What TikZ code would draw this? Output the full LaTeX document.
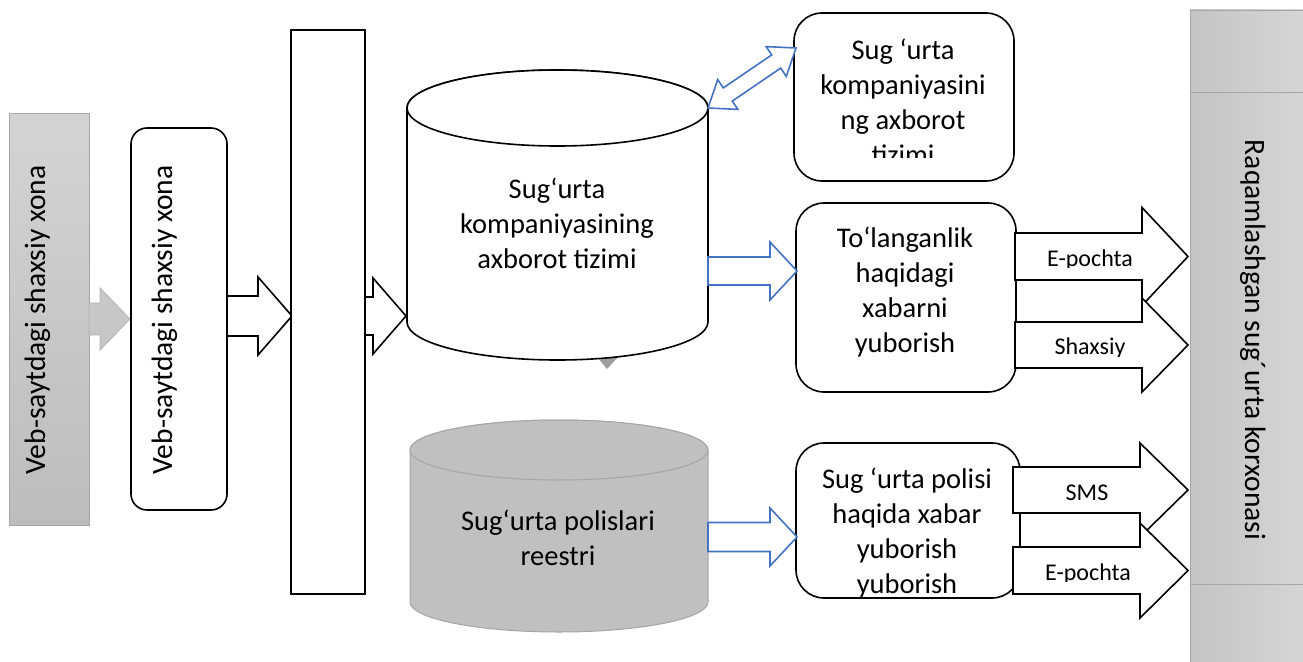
\documentclass[tikz,border=0pt]{standalone}
\usepackage{fontspec}
\setmainfont{Carlito}
\definecolor{bluel}{HTML}{4472C4}
\definecolor{grayfill}{HTML}{C0C0C0}
\definecolor{grayline}{HTML}{A6A6A6}
\newcommand{\mainsz}{\fontsize{28.5}{35}\selectfont}
\newcommand{\vertsz}{\fontsize{29.5}{35}\selectfont}
\newcommand{\smallsz}{\fontsize{24}{28}\selectfont}
% style, x start, x tip, y centre (pixel, down), shaft half, head half, head length
\newcommand{\hblockarrow}[7]{%
  \draw[#1] (#2,-#4+#5) -- (#3-#7,-#4+#5) -- (#3-#7,-#4+#6) -- (#3,-#4)
    -- (#3-#7,-#4-#6) -- (#3-#7,-#4-#5) -- (#2,-#4-#5) -- cycle;}
% style, cx, rx, y top centre, y bottom centre, ry  (pixel y, down)
\newcommand{\cylshape}[6]{%
  \path[#1] (#2-#3,-#4) -- (#2-#3,-#5)
    arc[start angle=180,end angle=360,x radius=#3,y radius=#6]
    -- (#2+#3,-#4)
    arc[start angle=0,end angle=180,x radius=#3,y radius=#6] -- cycle;
  \path[#1] (#2,-#4) ellipse[x radius=#3,y radius=#6];}
\begin{document}
\begin{tikzpicture}[x=1pt,y=1pt,
  blk/.style={draw=black,line width=1.6pt,fill=white,line join=miter},
  rbox/.style={draw=black,line width=1.6pt,fill=white,rounded corners=28pt,inner sep=0pt},
  txt/.style={font=\mainsz,align=center,inner sep=0pt,text=black},
  vtxt/.style={font=\vertsz,inner sep=0pt,text=black},
  lab/.style={font=\smallsz,inner sep=0pt,text=black},
  bluearr/.style={draw=bluel,line width=1.6pt,fill=white,line join=miter},
  grayarr/.style={draw=black!30,line width=0.8pt,fill=black!22},
  cylw/.style={draw=black,line width=1.6pt,fill=white},
  cylg/.style={draw=grayline,line width=1pt,fill=grayfill}]
\useasboundingbox (0,0) rectangle (1303,-661);

% left gray rectangle
\shade[top color=black!17,bottom color=black!26] (9,-113) rectangle (89,-525);
\node[draw=grayline,line width=0.8pt,minimum width=80pt,minimum height=412pt,inner sep=0pt] (lgray) at (49,-319) {};
\node[vtxt,rotate=90,anchor=base] (lgrayt) at (45,-320) {Veb-saytdagi shaxsiy xona};

% gray arrow
\hblockarrow{grayarr}{89}{130}{319}{16}{31}{30}

% rounded vertical box
\node[rbox,rounded corners=16pt,minimum width=96pt,minimum height=382pt] (lbox) at (179,-319) {};
\node[vtxt,rotate=90,anchor=base] (lboxt) at (172,-320) {Veb-saytdagi shaxsiy xona};

% white arrow 1
\hblockarrow{blk}{227}{292}{316}{20}{39}{34}

% tall rectangle
\node[draw=black,line width=1.6pt,fill=white,minimum width=74pt,minimum height=564pt,inner sep=0pt] (tall) at (328,-312) {};

% white arrow 2
\hblockarrow{blk}{365}{406}{316}{19}{38}{33}

% small gray triangle
\fill[black!38] (597,-357) -- (620,-355) -- (607,-369) -- cycle;

% cylinder 1
\cylshape{cylw}{557.5}{150.5}{108}{322}{38}
\coordinate (cyl1) at (557.5,-215);
\node[txt,anchor=base] (cyl1t) at (557,-268) {Sug‘urta\\kompaniyasining\\axborot tizimi};

% cylinder 2
\cylshape{cylg}{559}{149}{450}{602}{30}
\coordinate (cyl2) at (559,-525);
\node[txt,anchor=base] (cyl2t) at (558,-565) {Sug‘urta polislari\\reestri};

% box 1
\node[rbox,minimum width=220pt,minimum height=168pt] (b1) at (904,-97) {};
\begin{scope}
\clip (794,-13) rectangle (1014,-157);
\node[txt,anchor=base] (b1t) at (903,-164) {Sug ‘urta\\kompaniyasini\\ng axborot\\tizimi};
\end{scope}

% box 2
\node[rbox,minimum width=220pt,minimum height=189pt] (b2) at (906,-297.5) {};
\node[txt,anchor=base] (b2t) at (905,-352) {To‘langanlik\\haqidagi\\xabarni\\yuborish};

% box 3
\node[rbox,minimum width=224pt,minimum height=155pt] (b3) at (908,-520.5) {};
\node[txt,anchor=base] (b3t) at (907,-593) {Sug ‘urta polisi\\haqida xabar\\yuborish\\yuborish};

% blue double arrow
\draw[bluearr] (708,-108) -- (737.9,-109.4) -- (732.3,-101.1) -- (780.7,-68.1)
  -- (786.3,-76.4) -- (796,-48) -- (766.1,-46.6) -- (771.7,-54.9)
  -- (723.3,-87.9) -- (717.7,-79.6) -- cycle;

% blue arrows
\hblockarrow{bluearr}{708}{797}{271}{14}{29}{27}
\hblockarrow{bluearr}{708}{797}{537}{14.5}{29}{27}

% right bar
\shade[left color=black!23,right color=black!16] (1190,-10) rectangle (1310,-670);
\draw[grayline,line width=0.8pt] (1190,-670) -- (1190,-10) -- (1310,-10);
\draw[grayline,line width=0.8pt] (1190,-92) -- (1310,-92);
\draw[grayline,line width=0.8pt] (1190,-584) -- (1310,-584);
\coordinate (rbar) at (1246,-340);
\node[vtxt,rotate=-90,anchor=base] (rbart) at (1245,-340) {Raqamlashgan sug´urta korxonasi};

% output arrows, box 2
\hblockarrow{blk}{1015}{1188}{256.5}{23.5}{49}{46}
\hblockarrow{blk}{1015}{1188}{345}{23}{47}{46}
\begin{scope}
\clip (1020,-234) rectangle (1140,-267);
\node[lab,anchor=base] (l1) at (1090,-266) {E-pochta};
\end{scope}
\begin{scope}
\clip (1020,-323) rectangle (1140,-356);
\node[lab,anchor=base] (l2) at (1090,-354) {Shaxsiy};
\end{scope}

% output arrows, box 3
\hblockarrow{blk}{1013}{1188}{490}{23}{47}{48}
\hblockarrow{blk}{1013}{1188}{570.5}{23.5}{47.5}{48}
\node[lab,anchor=base] (l3) at (1087,-500) {SMS};
\begin{scope}
\clip (1018,-548) rectangle (1138,-581);
\node[lab,anchor=base] (l4) at (1088,-580) {E-pochta};
\end{scope}
\end{tikzpicture}
\end{document}
